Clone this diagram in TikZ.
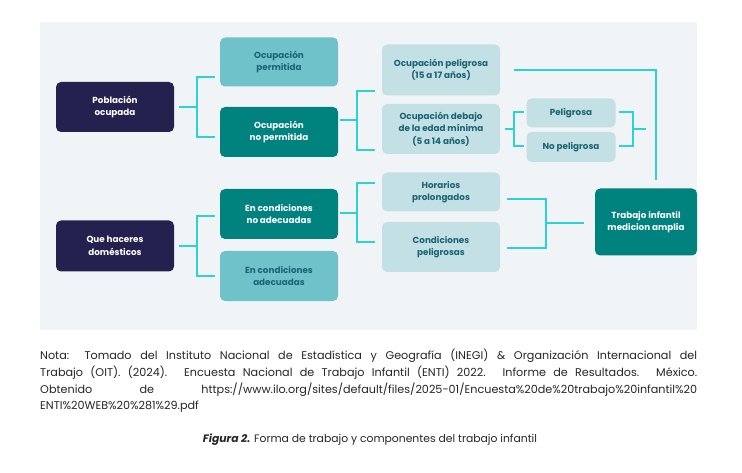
\documentclass[tikz,border=0pt]{standalone}
\usepackage{fontspec}
\setmainfont{Poppins}
\begin{document}
\begin{tikzpicture}[x=1pt,y=-1pt,
  box/.style={rounded corners=5pt,align=center,font=\bfseries\fontsize{8.8}{12.5}\selectfont,inner sep=0pt},
  navy/.style={box,fill=navyc,text=white},
  teal/.style={box,fill=tealc,text=white},
  mid/.style={box,fill=midc,text=txtc},
  light/.style={box,fill=lightc,text=txtc},
  con/.style={draw=cyanc,line width=1.4pt}]
\definecolor{navyc}{HTML}{24214F}
\definecolor{tealc}{HTML}{00827F}
\definecolor{midc}{HTML}{6FC1CA}
\definecolor{lightc}{HTML}{C3E0E5}
\definecolor{txtc}{HTML}{1A6474}
\definecolor{cyanc}{HTML}{2CD3D3}
\definecolor{bgc}{HTML}{F1F4F7}
\useasboundingbox (0,0) rectangle (742,473);
\fill[white] (0,0) rectangle (742,473);
\fill[bgc] (40,22) rectangle (697,330);
% boxes
\node[navy,minimum width=118pt,minimum height=50pt] (po) at (115,107) {Población\\ocupada};
\node[mid,minimum width=118pt,minimum height=49pt] (op) at (279,62) {Ocupación\\permitida};
\node[teal,minimum width=118pt,minimum height=50pt] (onp) at (279,132) {Ocupación\\no permitida};
\node[light,minimum width=118pt,minimum height=51pt] (ope) at (441,70) {Ocupación peligrosa\\(15 a 17 años)};
\node[light,minimum width=118pt,minimum height=50pt] (odm) at (441,129) {Ocupación debajo\\de la edad mínima\\(5 a 14 años)};
\node[light,minimum width=89pt,minimum height=29pt] (pel) at (571,113) {Peligrosa};
\node[light,minimum width=89pt,minimum height=30pt] (npel) at (571,147) {No peligrosa};
\node[light,minimum width=118pt,minimum height=39pt] (hor) at (441,192) {Horarios\\prolongados};
\node[light,minimum width=118pt,minimum height=50pt] (cp) at (441,247) {Condiciones\\peligrosas};
\node[teal,minimum width=102pt,minimum height=67pt] (ti) at (646,222) {Trabajo infantil\\medicion amplia};
\node[teal,minimum width=118pt,minimum height=50pt] (cna) at (279,214) {En condiciones\\no adecuadas};
\node[mid,minimum width=118pt,minimum height=50pt] (ca) at (279,276) {En condiciones\\adecuadas};
\node[navy,minimum width=118pt,minimum height=51pt] (qh) at (115,246) {Que haceres\\domésticos};
% connector end points
\coordinate (c1) at (179,107); \coordinate (c2) at (340,120); \coordinate (c3) at (514,70);
\coordinate (c4) at (505,129); \coordinate (c5a) at (619,112); \coordinate (c5b) at (619,146);
\coordinate (c5c) at (646,129); \coordinate (c6) at (340,213); \coordinate (c7a) at (507,199);
\coordinate (c7b) at (507,248); \coordinate (c7c) at (584,223); \coordinate (c8) at (179,246);
\coordinate (c9) at (656,180);
% connectors
\draw[con] (c1) -- (197,107) (215,77) -- (197,77) -- (197,137) -- (215,137);
\draw[con] (c2) -- (357,120) (375,91) -- (357,91) -- (357,150) -- (375,150);
\draw[con] (c3) -- (656,70) -- (c9);
\draw[con] (c4) -- (514,129) (524,112) -- (514,112) -- (514,146) -- (524,146);
\draw[con] (c5a) -- (633,112) -- (633,146) -- (c5b) (633,129) -- (c5c);
\draw[con] (c6) -- (357,213) (375,183) -- (357,183) -- (357,242) -- (375,242);
\draw[con] (c7a) -- (546,199) -- (546,248) -- (c7b) (546,223) -- (c7c);
\draw[con] (c8) -- (197,246) (215,216) -- (197,216) -- (197,276) -- (215,276);
% note
\begin{scope}[every node/.style={anchor=west,inner sep=0pt,font=\fontsize{11.2}{12}\selectfont,text=black!85}]
\node (n1) at (40,356) {\makebox[657pt][s]{Nota: Tomado del Instituto Nacional de Estadística y Geografía (INEGI) \& Organización Internacional del}};
\node (n2) at (40,373) {\makebox[657pt][s]{Trabajo (OIT). (2024). Encuesta Nacional de Trabajo Infantil (ENTI) 2022. Informe de Resultados. México.}};
\node (n3) at (40,390) {\makebox[657pt][s]{Obtenido de https://www.ilo.org/sites/default/files/2025-01/Encuesta\%20de\%20trabajo\%20infantil\%20}};
\node (n4) at (40,407) {ENTI\%20WEB\%20\%281\%29.pdf};
\end{scope}
\node[inner sep=0pt,font=\fontsize{10.8}{12}\selectfont,text=black!85] (cap) at (370,440) {\textbf{\textit{Figura 2.}} Forma de trabajo y componentes del trabajo infantil};
\end{tikzpicture}
\end{document}
